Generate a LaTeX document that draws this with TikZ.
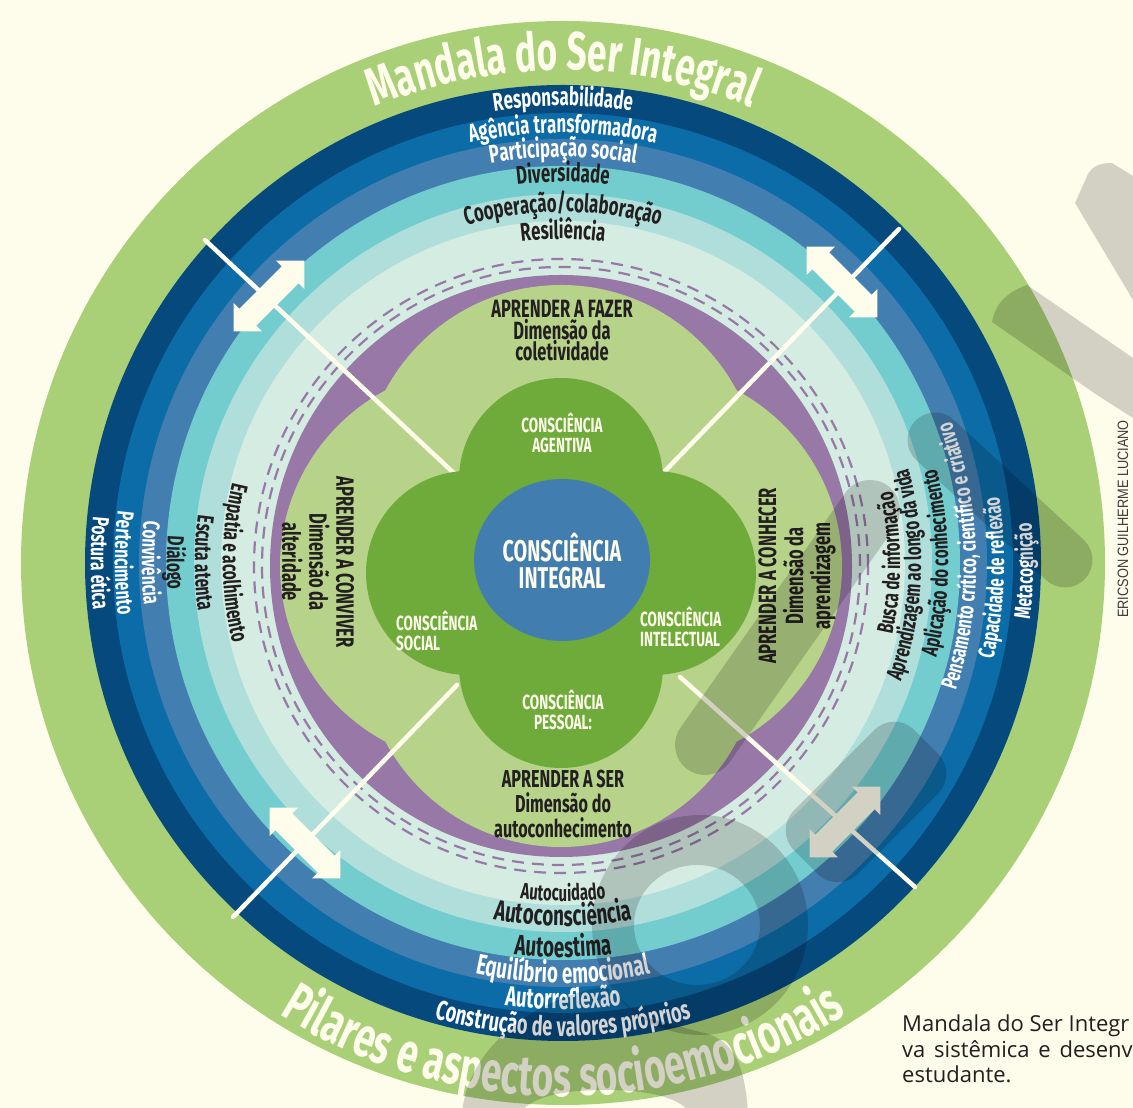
\documentclass[tikz,border=0pt]{standalone}
\usepackage{fontspec}
\setmainfont{Fira Sans}
\newfontfamily\cnd[FakeStretch=0.66]{Fira Sans}
\newfontfamily\capf{Open Sans}
\newfontfamily\credf[FakeStretch=0.85]{Liberation Sans}
\usetikzlibrary{decorations.text}
\definecolor{cream}{HTML}{FEFCEB}
\definecolor{ogreen}{HTML}{A9D077}
\definecolor{dblue}{HTML}{06497D}
\definecolor{mblue}{HTML}{0B6CA8}
\definecolor{sblue}{HTML}{437EB0}
\definecolor{tealA}{HTML}{73CDCF}
\definecolor{lteal}{HTML}{B0DEDA}
\definecolor{mint}{HTML}{D4ECE1}
\definecolor{purp}{HTML}{9778A7}
\definecolor{lgreen}{HTML}{B7D38A}
\definecolor{cgreen}{HTML}{6FAB3B}
\definecolor{cblue}{HTML}{427DB0}
\definecolor{dtext}{HTML}{231F20}
\definecolor{credc}{HTML}{3A3A3A}
\newcommand\ringtext[6]{\path[decorate,decoration={text along path,text align=center,text color=#5,text={|\cnd\bfseries\fontsize{#4}{#4}\selectfont|#6}}] ([shift={(#1:#3)}]C) arc[start angle=#1,end angle=#2,radius=#3];}
\newcommand\dblarr[3]{\fill[cream,shift={(#1,#2)},rotate=#3] (50,0) -- (30,20) -- (30,12) -- (-30,12) -- (-30,20) -- (-50,0) -- (-30,-20) -- (-30,-12) -- (30,-12) -- (30,-20) -- cycle;}
\tikzset{
  dashring/.style={draw=purp,line width=2.2pt,dash pattern=on 12pt off 8pt},
  diagline/.style={draw=cream,line width=4.5pt,line cap=round},
  itext/.style={align=center,text=dtext,inner sep=0pt},
  ctext/.style={text=cream,inner sep=0pt,font=\cnd\bfseries\fontsize{20.5}{20}\selectfont},
  wmark/.style={fill=black,fill opacity=0.17},
  wstroke/.style={draw=black,draw opacity=0.17,line cap=round},
}
\begin{document}
\begin{tikzpicture}[x=1pt,y=1pt]
\useasboundingbox (0,0) rectangle (1133,1108);
\clip (0,0) rectangle (1133,1108);
\fill[cream] (0,0) rectangle (1133,1108);
\coordinate (C) at (563,545);
\coordinate (P) at (561,542);
\coordinate (K) at (561,535);
% rings
\fill[ogreen] (C) circle[radius=542];
\fill[dblue] (C) circle[radius=478];
\fill[mblue] (C) circle[radius=450];
\fill[sblue] (C) circle[radius=424];
\fill[tealA] (C) circle[radius=397];
\fill[lteal] (C) circle[radius=369];
\fill[mint] (C) circle[radius=342];
\draw[dashring] (P) circle[radius=307];
\draw[dashring] (P) circle[radius=299];
\fill[purp] (P) circle[radius=291];
\fill[lgreen] ([shift={(0,82)}]P) circle[radius=199] ([shift={(0,-82)}]P) circle[radius=199]
  ([shift={(82,0)}]P) circle[radius=199] ([shift={(-82,0)}]P) circle[radius=199];
% diagonal lines
\coordinate (tlA) at (205,868); \coordinate (tlB) at (458,631);
\coordinate (trA) at (899,879); \coordinate (trB) at (665,637);
\coordinate (blA) at (233,191); \coordinate (blB) at (457,423);
\coordinate (brA) at (915,221); \coordinate (brB) at (680,431);
\draw[diagline] (tlA) -- (tlB);
\draw[diagline] (trA) -- (trB);
\draw[diagline] (blA) -- (blB);
\draw[diagline] (brA) -- (brB);
% clover
\fill[cgreen] ([shift={(0,93)}]K) circle[radius=102] ([shift={(0,-93)}]K) circle[radius=102]
  ([shift={(93,0)}]K) circle[radius=102] ([shift={(-93,0)}]K) circle[radius=102];
\fill[cblue] (562,548) ellipse[x radius=88,y radius=81];
% double arrows
\dblarr{269}{812}{45}
\dblarr{842}{826}{-45}
\dblarr{305}{265}{-45}
\dblarr{845}{286}{45}
% top ring labels
\ringtext{165}{15}{457}{25.5}{white}{Responsabilidade}
\ringtext{165}{15}{430}{25.5}{white}{Agência transformadora}
\ringtext{165}{15}{406}{25.5}{white}{Participação social}
\ringtext{165}{15}{381}{25.5}{dtext}{Diversidade}
\ringtext{165}{15}{351}{25.5}{dtext}{Cooperação/colaboração}
\ringtext{165}{15}{324}{25.5}{dtext}{Resiliência}
% left ring labels
\ringtext{105}{255}{472}{23.4}{white}{Postura ética}
\ringtext{105}{255}{448}{23.4}{white}{Pertencimento}
\ringtext{105}{255}{421}{23.4}{white}{Convivência}
\ringtext{105}{255}{396}{23.4}{dtext}{Diálogo}
\ringtext{105}{255}{368}{23.4}{dtext}{Escuta atenta}
\ringtext{105}{255}{340}{23.4}{dtext}{Empatia e acolhimento}
% right ring labels
\ringtext{-75}{75}{337}{23}{dtext}{Busca de informação}
\ringtext{-77}{73}{358}{23}{dtext}{Aprendizagem ao longo da vida}
\ringtext{-75}{75}{385}{23}{dtext}{Aplicação do conhecimento}
\ringtext{-74}{76}{413}{23}{white}{Pensamento crítico, científico e criativo}
\ringtext{-77}{73}{441}{23}{white}{Capacidade de reflexão}
\ringtext{-76}{74}{470}{23}{white}{Metacognição}
% bottom ring labels
\ringtext{195}{345}{338}{22.5}{dtext}{Autocuidado}
\ringtext{195}{345}{363}{28.5}{dtext}{Autoconsciência}
\ringtext{195}{345}{394}{28.5}{dtext}{Autoestima}
\ringtext{195}{345}{420}{28.5}{white}{Equilíbrio emocional}
\ringtext{195}{345}{446}{28}{white}{Autorreflexão}
\ringtext{195}{345}{473}{27.5}{white}{Construção de valores próprios}
% outer titles
\ringtext{135}{45}{493}{53.5}{cream}{Mandala do Ser Integral}
\ringtext{210}{330}{533}{56}{cream}{Pilares e aspectos socioemocionais}
% inner green texts
\node[itext,font=\cnd\bfseries\fontsize{25}{21.5}\selectfont] (fazer) at (562,777) {APRENDER A FAZER\\Dimensão da\\coletividade};
\node[itext,font=\cnd\bfseries\fontsize{24.5}{25}\selectfont] (ser) at (563,304) {APRENDER A SER\\Dimensão do\\autoconhecimento};
\node[itext,rotate=-90,font=\cnd\bfseries\fontsize{25}{27}\selectfont] (conviver) at (318,546) {APRENDER A CONVIVER\\Dimensão da\\alteridade};
\node[itext,rotate=90,font=\cnd\bfseries\fontsize{25}{27}\selectfont] (conhecer) at (797,532) {APRENDER A CONHECER\\Dimensão da\\aprendizagem};
% clover texts
\node[ctext,align=center] (agentiva) at (562,675) {CONSCIÊNCIA\\AGENTIVA};
\node[ctext,align=left,anchor=west] (social) at (396,477) {CONSCIÊNCIA\\SOCIAL};
\node[ctext,align=left,anchor=west] (intelectual) at (640,481) {CONSCIÊNCIA\\INTELECTUAL};
\node[ctext,align=center] (pessoal) at (563,398) {CONSCIÊNCIA\\PESSOAL:};
\node[text=cream,inner sep=0pt,align=center,font=\cnd\bfseries\fontsize{30}{27}\selectfont] (integral) at (562,547) {CONSCIÊNCIA\\INTEGRAL};
% translucent watermark shapes
\fill[wmark] (1075,905) -- (1088,934) to[out=60,in=180] (1112,945) -- (1133,932) -- (1133,808) -- cycle;
\fill[wmark] (992,786) to[out=80,in=200] (1027,823) -- (1133,750) -- (1133,690) -- (1097,713) -- cycle;
\draw[wstroke,line width=55pt] (935,668) -- (1065,548);
\draw[wstroke,line width=60pt] (705,363) -- (870,598);
\fill[wmark,rounded corners=28pt,shift={(866,306)},rotate=45] (-85,-45) rectangle (85,45);
\fill[wmark,even odd rule] (700,183) ellipse[x radius=108,y radius=110] (697,183) ellipse[x radius=63,y radius=60];
\fill[wmark,even odd rule] (462,-5) .. controls (468,58) and (528,108) .. (606,122) -- (640,92) -- (700,76)
  .. controls (735,70) and (745,40) .. (748,-5) -- cycle
  (520,-5) .. controls (532,12) and (565,18) .. (605,18) .. controls (650,18) and (680,10) .. (690,-5) -- cycle;
% caption and credit
\node[anchor=base west,inner sep=0pt,text=dtext,font=\capf\fontsize{22}{22}\selectfont] (cap1) at (902,76) {Mandala do Ser Integr};
\node[anchor=base west,inner sep=0pt,text=dtext,font=\capf\fontsize{22}{22}\selectfont] (cap2) at (902,50) {va\hspace{0.4em}sistêmica\hspace{0.4em}e\hspace{0.4em}desenv};
\node[anchor=base west,inner sep=0pt,text=dtext,font=\capf\fontsize{22}{22}\selectfont] (cap3) at (902,25) {estudante.};
\node[rotate=90,inner sep=0pt,text=credc,font=\credf\fontsize{15}{15}\selectfont] (credit) at (1123,589) {ERICSON GUILHERME LUCIANO};
\end{tikzpicture}
\end{document}
